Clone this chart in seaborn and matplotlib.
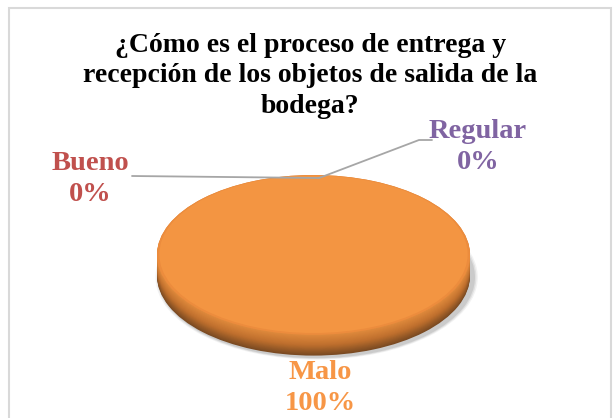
import numpy as np
import matplotlib
matplotlib.use("Agg")
import matplotlib.pyplot as plt
from matplotlib.lines import Line2D
from matplotlib.patches import Rectangle
import seaborn as sns

# datos de la encuesta
categories = ["Bueno", "Malo", "Regular"]
percent = [0, 100, 0]
label_colors = ["#C0504D", "#F79646", "#8064A2"]
title = "¿Cómo es el proceso de entrega y\nrecepción de los objetos de salida de la\nbodega?"

sns.set_theme(style="white")
plt.rcParams["font.family"] = ["Liberation Serif", "DejaVu Serif"]

W, H = 614, 418
fig = plt.figure(figsize=(W / 100, H / 100), dpi=100)
fig.patch.set_facecolor("white")

# borde del grafico
fig.add_artist(Rectangle((9 / W, -0.01), (W - 12) / W, 1 - 8 / H + 0.01,
                         transform=fig.transFigure, fill=False,
                         edgecolor="#D9D9D9", lw=1.5))

# pastel 3D aplanado
ax = fig.add_axes([157 / W, (H - 358) / H, 313 / W, 183 / H])
thick = 0.26

# sombra suave
for k, a in zip([0.10, 0.07, 0.04], [0.05, 0.07, 0.09]):
    ax.pie(percent, colors=["#000000"] * 3, radius=1.0 + k * 0.3,
           center=(0.02, -thick - 0.02), startangle=90, counterclock=False,
           wedgeprops=dict(alpha=a, linewidth=0))

# lateral del disco
side = sns.blend_palette(["#E08A3C", "#C0702E", "#7A4A22"], 24)
for i, off in enumerate(np.linspace(thick, 0, 24)):
    ax.pie(percent, colors=[side[23 - i]] * 3, radius=1.0,
           center=(0, -off), startangle=90, counterclock=False,
           wedgeprops=dict(linewidth=0))

# cara superior
ax.pie(percent, colors=["#EC8C3D"] * 3, radius=1.0, startangle=90,
       counterclock=False, wedgeprops=dict(linewidth=0))
ax.pie(percent, colors=["#F39542"] * 3, radius=0.985, center=(0, 0.008),
       startangle=90, counterclock=False, wedgeprops=dict(linewidth=0))

ax.set_aspect("auto")
ax.set_xlim(-1.0, 1.0)
ax.set_ylim(-1.0 - thick - 0.03, 1.0)
ax.axis("off")

fig.text(0.505, 1 - 33 / H, title, ha="center", va="top", fontsize=20,
         fontweight="bold", color="black", linespacing=1.28)

# etiquetas de datos
label_pos = {"Bueno": (90, 179), "Malo": (320, 388), "Regular": (478, 147)}
for cat, val, col in zip(categories, percent, label_colors):
    x, y = label_pos[cat]
    fig.text(x / W, 1 - y / H, f"{cat}\n{val}%", ha="center", va="center",
             fontsize=20.5, fontweight="bold", color=col, linespacing=1.28)

# lineas guia
for xs, ys in [([132, 319], [176, 178]), ([432, 419, 319], [140, 140, 178])]:
    fig.add_artist(Line2D(np.array(xs) / W, 1 - np.array(ys) / H,
                          transform=fig.transFigure, color="#A6A6A6", lw=1.3))

fig.savefig("out.png", dpi=100)
